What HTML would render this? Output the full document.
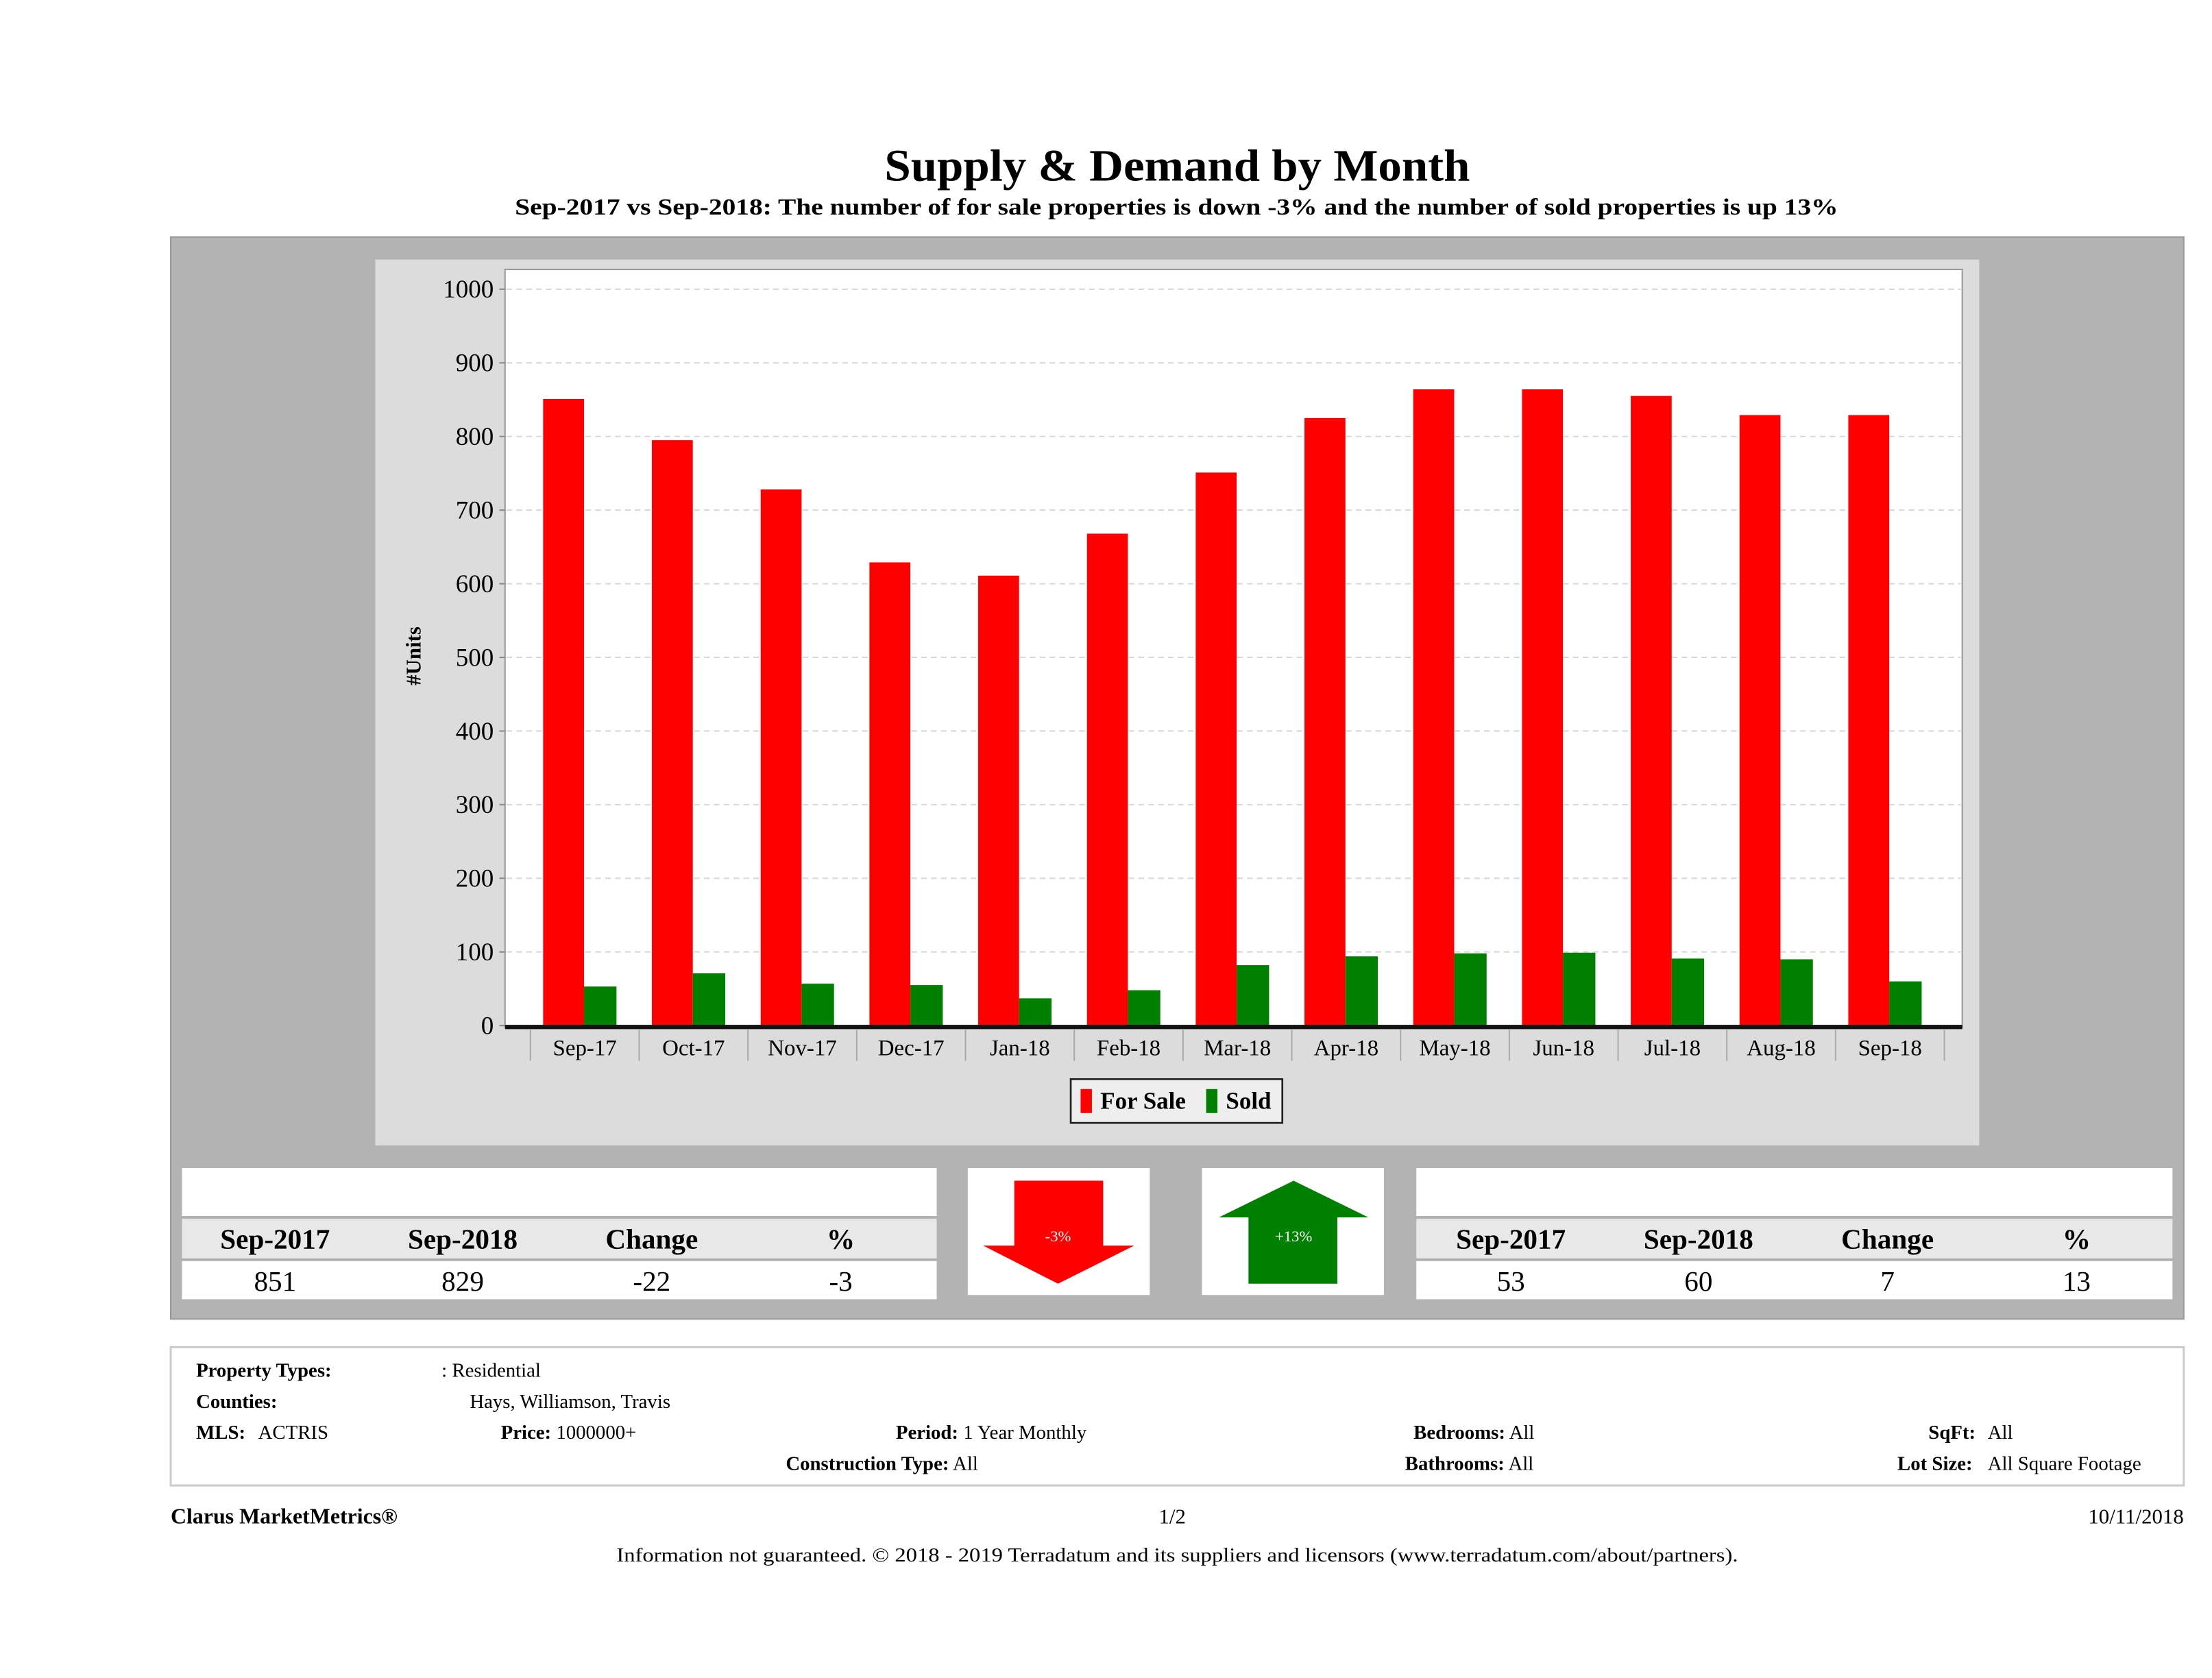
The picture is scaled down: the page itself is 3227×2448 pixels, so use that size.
<!DOCTYPE html>
<html><head><meta charset="utf-8"><style>
html,body{margin:0;padding:0;background:#fff;}
svg{display:block;font-family:"Liberation Serif",serif;}
</style></head><body>
<svg id="s" width="3227" height="2448" viewBox="0 0 1568 1189.5" xmlns="http://www.w3.org/2000/svg">
<rect width="1568" height="1189.5" fill="#fff"/>
<text x="627" y="128" textLength="415" lengthAdjust="spacingAndGlyphs" font-size="32" font-weight="bold">Supply &amp; Demand by Month</text>
<text x="365" y="152" textLength="938" lengthAdjust="spacingAndGlyphs" font-size="16.5" font-weight="bold">Sep-2017 vs Sep-2018: The number of for sale properties is down -3% and the number of sold properties is up 13%</text>
<rect x="121" y="168" width="1427" height="767" fill="#b3b3b3" stroke="#999" stroke-width="1"/>
<rect x="266" y="184" width="1137" height="628" fill="#dcdcdc"/>
<rect x="358" y="191" width="1033" height="537" fill="#fff" stroke="#999" stroke-width="1"/>
<g id="grid"></g>
<g id="bars"></g>
<g id="axes"></g>
<text transform="translate(298,465) rotate(-90)" text-anchor="middle" font-size="15" font-weight="bold">#Units</text>
<g>
<rect x="759" y="765" width="150" height="31" fill="#eeeeee" stroke="#222" stroke-width="1.3"/>
<rect x="766" y="772" width="8" height="17" fill="#ff0000"/>
<text x="780" y="786" font-size="17" font-weight="bold">For Sale</text>
<rect x="855" y="772" width="8" height="17" fill="#008000"/>
<text x="869" y="786" font-size="17" font-weight="bold">Sold</text>
</g>
<g>
<rect x="129" y="828" width="535" height="34" fill="#fff"/>
<rect x="129" y="864" width="535" height="28" fill="#e8e8e8"/>
<rect x="129" y="894" width="535" height="27" fill="#fff"/>
<g font-size="20" text-anchor="middle">
<text x="195" y="885" font-weight="bold">Sep-2017</text><text x="328" y="885" font-weight="bold">Sep-2018</text><text x="462" y="885" font-weight="bold">Change</text><text x="596" y="885" font-weight="bold">%</text>
<text x="195" y="915">851</text><text x="328" y="915">829</text><text x="462" y="915">-22</text><text x="596" y="915">-3</text>
</g></g>
<g>
<rect x="686" y="828" width="129" height="90" fill="#fff"/>
<polygon points="719,837 782,837 782,883 804,883 750,910 697,883 719,883" fill="#ff0000"/>
<text x="750" y="880" text-anchor="middle" font-size="11" fill="#fff">-3%</text>
</g>
<g>
<rect x="852" y="828" width="129" height="90" fill="#fff"/>
<polygon points="917,837 970,863 948,863 948,910 885,910 885,863 864,863" fill="#008000"/>
<text x="917" y="880" text-anchor="middle" font-size="11" fill="#fff">+13%</text>
</g>
<g>
<rect x="1004" y="828" width="536" height="34" fill="#fff"/>
<rect x="1004" y="864" width="536" height="28" fill="#e8e8e8"/>
<rect x="1004" y="894" width="536" height="27" fill="#fff"/>
<g font-size="20" text-anchor="middle">
<text x="1071" y="885" font-weight="bold">Sep-2017</text><text x="1204" y="885" font-weight="bold">Sep-2018</text><text x="1338" y="885" font-weight="bold">Change</text><text x="1472" y="885" font-weight="bold">%</text>
<text x="1071" y="915">53</text><text x="1204" y="915">60</text><text x="1338" y="915">7</text><text x="1472" y="915">13</text>
</g></g>
<g font-size="14">
<rect x="121" y="955" width="1427" height="98" fill="#fff" stroke="#ccc" stroke-width="1.5"/>
<text x="139" y="976" font-weight="bold">Property Types:</text><text x="313" y="976">: Residential</text>
<text x="139" y="998" font-weight="bold">Counties:</text><text x="333" y="998">Hays, Williamson, Travis</text>
<text x="139" y="1020"><tspan font-weight="bold">MLS:</tspan><tspan x="183">ACTRIS</tspan></text>
<text x="355" y="1020"><tspan font-weight="bold">Price:</tspan> 1000000+</text>
<text x="635" y="1020"><tspan font-weight="bold">Period:</tspan> 1 Year Monthly</text>
<text x="1002" y="1020"><tspan font-weight="bold">Bedrooms:</tspan> All</text>
<text x="1367" y="1020"><tspan font-weight="bold">SqFt:</tspan><tspan x="1409">All</tspan></text>
<text x="557" y="1042"><tspan font-weight="bold">Construction Type:</tspan> All</text>
<text x="996" y="1042"><tspan font-weight="bold">Bathrooms:</tspan> All</text>
<text x="1345" y="1042"><tspan font-weight="bold">Lot Size:</tspan><tspan x="1409">All Square Footage</tspan></text>
</g>
<text x="121" y="1080" font-size="15.5" font-weight="bold">Clarus MarketMetrics®</text>
<text x="831" y="1080" text-anchor="middle" font-size="15">1/2</text>
<text x="1548" y="1080" text-anchor="end" font-size="15">10/11/2018</text>
<text x="437" y="1107" textLength="795" lengthAdjust="spacingAndGlyphs" font-size="14">Information not guaranteed. © 2018 - 2019 Terradatum and its suppliers and licensors (www.terradatum.com/about/partners).</text>
</svg>
<script>
const categories=["Sep-17","Oct-17","Nov-17","Dec-17","Jan-18","Feb-18","Mar-18","Apr-18","May-18","Jun-18","Jul-18","Aug-18","Sep-18"];
const forSale=[851,795,728,629,611,668,751,825,864,864,855,829,829];
const sold=[53,71,57,55,37,48,82,94,98,99,91,90,60];
const yTicks=[0,100,200,300,400,500,600,700,800,900,1000];
const NS="http://www.w3.org/2000/svg";
const y0=727,y1=205,bandStart=376,bandW=77.1;
const yS=v=>y0-(y0-y1)*v/1000;
const xB=i=>bandStart+i*bandW;
function mk(t,a,p){const e=document.createElementNS(NS,t);for(const k in a)e.setAttribute(k,a[k]);p.appendChild(e);return e;}
const grid=document.getElementById('grid'),bars=document.getElementById('bars'),axes=document.getElementById('axes');
yTicks.forEach(v=>{
  if(v>0){const g=mk('line',{x1:359,x2:1390,y1:yS(v),y2:yS(v),stroke:'#d8d8d8','stroke-dasharray':'4,3','stroke-width':1},grid);
  
  }
  const t=mk('text',{x:350,y:yS(v)+6,'text-anchor':'end','font-size':18},axes);t.textContent=v;
  
  
  mk('line',{x1:354,x2:358,y1:yS(v),y2:yS(v),stroke:'#888'},axes);
});
categories.forEach((c,i)=>{
  const x=xB(i);
  const r=mk('rect',{x:x+9,y:yS(forSale[i]),width:29,height:y0-yS(forSale[i]),fill:'#ff0000'},bars);
  
  
  const g=mk('rect',{x:x+38,y:yS(sold[i]),width:23,height:y0-yS(sold[i]),fill:'#008000'},bars);
  
  
  mk('line',{x1:x,x2:x,y1:730,y2:752,stroke:'#aaa'},axes);
  const t=mk('text',{x:x+bandW/2,y:748,'text-anchor':'middle','font-size':16},axes);t.textContent=c;
  
  
});
mk('line',{x1:xB(13),x2:xB(13),y1:730,y2:752,stroke:'#aaa'},axes);
const ax=mk('line',{x1:358,x2:1391,y1:y0+1,y2:y0+1,stroke:'#111','stroke-width':3},axes);


</script>
</body></html>
